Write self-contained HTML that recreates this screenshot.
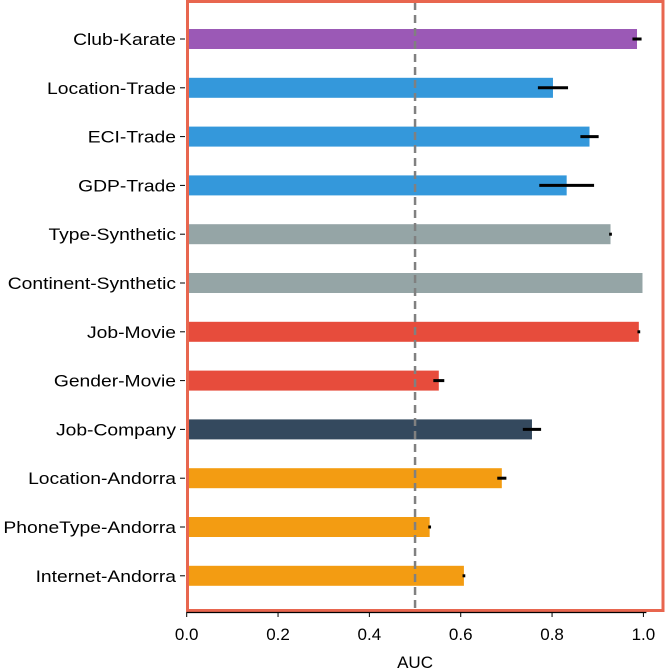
<!DOCTYPE html>
<html><head><meta charset="utf-8"><style>
body{margin:0;background:#fff;}
svg{display:block;font-family:"Liberation Sans",sans-serif;}
</style></head><body>
<svg id="chart" width="666" height="672" viewBox="0 0 666 672"></svg>
<script>
const categories=["Club-Karate","Location-Trade","ECI-Trade","GDP-Trade","Type-Synthetic","Continent-Synthetic","Job-Movie","Gender-Movie","Job-Company","Location-Andorra","PhoneType-Andorra","Internet-Andorra"];
const values=[0.986,0.802,0.882,0.832,0.928,0.998,0.99,0.552,0.756,0.69,0.532,0.607];
const errors=[0.01,0.033,0.02,0.06,0.003,0,0.003,0.012,0.02,0.01,0.003,0.003];
const colors=["#9b59b6","#3498db","#3498db","#3498db","#95a5a6","#95a5a6","#e74c3c","#e74c3c","#34495e","#f39c12","#f39c12","#f39c12"];
const ticks=[0,0.2,0.4,0.6,0.8,1.0];
const NS="http://www.w3.org/2000/svg";
const svg=document.getElementById('chart');
const x=v=>186.7+v*456.7;
const y=i=>39+i*48.8;
function mk(t,a){const e=document.createElementNS(NS,t);for(const k in a)e.setAttribute(k,a[k]);svg.appendChild(e);return e;}
categories.forEach((c,i)=>{
 const b=mk('rect',{x:x(0),y:y(i)-10,width:x(values[i])-x(0),height:20,fill:colors[i]});
 
 
 if(errors[i]>0){const e=mk('line',{x1:x(values[i]-errors[i]),x2:x(values[i]+errors[i]),y1:y(i),y2:y(i),stroke:'#000','stroke-width':3});
 
 }
 const t=mk('line',{x1:180,x2:185,y1:y(i),y2:y(i),stroke:'#000','stroke-width':1});
 
 
 const l=mk('text',{x:0,y:0,transform:'translate(176,'+(y(i)+6)+') scale(1.17,1)','text-anchor':'end','font-size':16.5,fill:'#000'});
 l.textContent=c;
 
 
});
const d=mk('line',{x1:x(0.5),x2:x(0.5),y1:2,y2:610,stroke:'#808080','stroke-width':2.5,'stroke-dasharray':'8,5'});


const fr=mk('rect',{x:187.5,y:1.5,width:475.5,height:609,fill:'none',stroke:'#e8664f','stroke-width':3});


const ax=mk('line',{x1:x(0),x2:x(1.0)+3,y1:612.5,y2:612.5,stroke:'#000','stroke-width':1.2});


ticks.forEach(v=>{
 const t=mk('line',{x1:x(v),x2:x(v),y1:612,y2:617,stroke:'#000','stroke-width':1});
 
 
 const l=mk('text',{x:x(v),y:640,'text-anchor':'middle','font-size':17,fill:'#000'});
 l.textContent=v.toFixed(1);
 
 
});
const at=mk('text',{x:x(0.5),y:668,'text-anchor':'middle','font-size':17,fill:'#000'});
at.textContent='AUC';


</script>
</body></html>
